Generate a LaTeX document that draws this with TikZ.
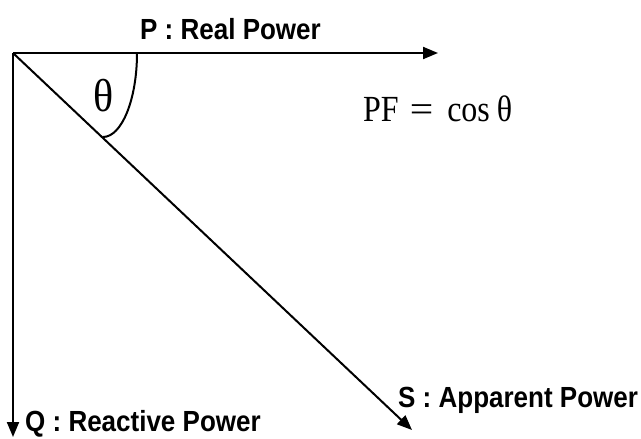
\documentclass[tikz,border=0pt]{standalone}
\usepackage{fontspec}
\setmainfont{Liberation Serif}
\newfontfamily\labfont{Liberation Sans}
\usetikzlibrary{arrows.meta}
\tikzset{
  vec/.style={line width=2pt,-{Triangle[length=15pt,width=12pt]}},
  lab/.style={inner sep=0pt,anchor=base west,font=\labfont\bfseries\fontsize{26}{28}\selectfont},
  mathtxt/.style={inner sep=0pt,font=\fontsize{32}{36}\selectfont}
}
\begin{document}
\begin{tikzpicture}[x=1pt,y=-1pt]
\useasboundingbox (0,0) rectangle (641,439);
\coordinate (O) at (13,53);
\coordinate (P) at (438,53);
\coordinate (Q) at (13,437);
\coordinate (S) at (412,430);
\coordinate (A) at (137,53);
\draw[vec] (O) -- (P);
\draw[vec] (O) -- (Q);
\draw[vec] (O) -- (S);
\draw[line width=2pt] (A) arc[start angle=0,end angle=90,x radius=34,y radius=84];
\node[lab] (pl) at (140,39) {\scalebox{1}[1.12]{P : Real Power}};
\node[lab] (sl) at (398,407) {\scalebox{1}[1.12]{S : Apparent Power}};
\node[lab] (ql) at (25,431) {\scalebox{1}[1.12]{Q : Reactive Power}};
\node[mathtxt,font=\fontsize{42}{46}\selectfont] (th) at (104,96) {\scalebox{1}[1.1]{θ}};
\node[mathtxt,anchor=base west] (pf) at (363,121) {\scalebox{1}[1.15]{PF\hspace{11pt}\scalebox{1.3}[1]{=}\hspace{14pt}cos\hspace{7pt}θ}};
\end{tikzpicture}
\end{document}
